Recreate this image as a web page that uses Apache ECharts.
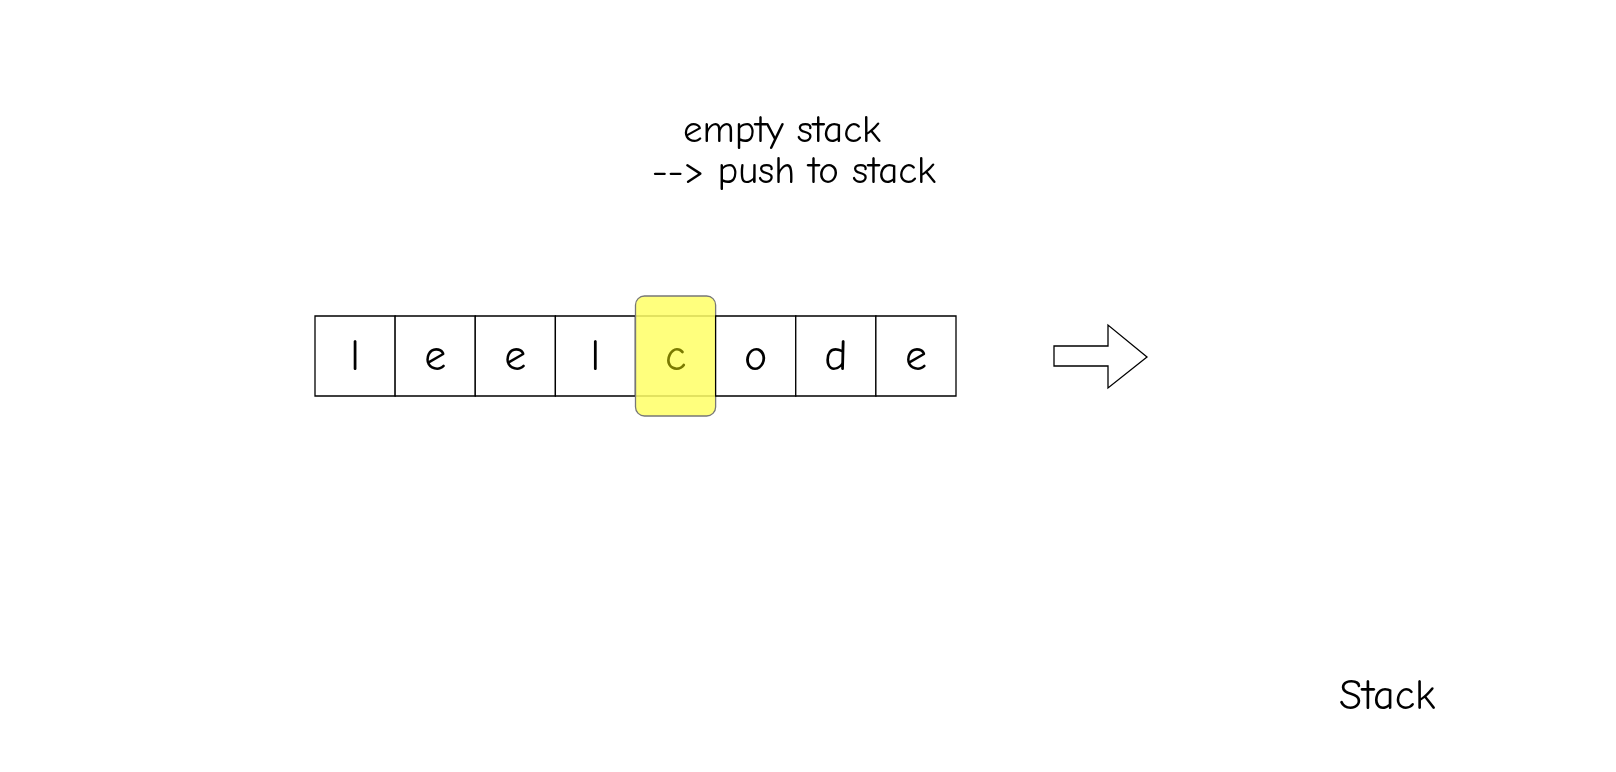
<!DOCTYPE html>
<html>
<head>
<meta charset="utf-8">
<script src="https://cdn.jsdelivr.net/npm/echarts@6/dist/echarts.min.js"></script>
<style>html,body{margin:0;padding:0;background:#fff}#main{width:1616px;height:772px}</style>
</head>
<body>
<div id="main"></div>
<script>
// 字符串与当前位置
var letters = ['l', 'e', 'e', 'l', 'c', 'o', 'd', 'e'];
var current = 4;
var noteLines = ['empty stack', '--> push to stack'];
var stackLabel = 'Stack';

var font = '"Comic Sans MS", "Comic Neue", "DejaVu Sans", sans-serif';
var chart = echarts.init(document.getElementById('main'));

var cells = letters.map(function (ch, i) { return [i, ch]; });

chart.setOption({
	animation: false,
	grid: { left: 315, top: 316, width: 641, height: 80 },
	xAxis: { type: 'value', min: 0, max: letters.length, show: false },
	yAxis: { type: 'value', min: 0, max: 1, show: false },
	series: [{
		type: 'custom',
		data: cells,
		renderItem: function (params, api) {
			var i = api.value(0);
			var p0 = api.coord([i, 1]);
			var p1 = api.coord([i + 1, 0]);
			var w = p1[0] - p0[0], h = p1[1] - p0[1];
			var hit = i === current;
			var children = [{
				type: 'rect',
				shape: { x: p0[0], y: p0[1], width: w, height: h },
				style: { fill: '#fff', stroke: '#000', lineWidth: 1.3 }
			}];
			if (hit) {
				children.push({
					type: 'rect',
					shape: { x: p0[0], y: p0[1] - 20, width: w, height: h + 40, r: 9 },
					style: { fill: 'rgba(255,255,102,0.85)', stroke: '#777', lineWidth: 1.3 }
				});
			}
			children.push({
				type: 'text',
				style: {
					text: letters[i], x: p0[0] + w / 2, y: p0[1] + h / 2 + 2,
					align: 'center', verticalAlign: 'middle',
					font: '44px ' + font, fill: hit ? '#7a7a00' : '#000'
				}
			});
			return { type: 'group', children: children };
		}
	}],
	graphic: [{
		type: 'text',
		style: { x: 683, y: 131, verticalAlign: 'middle', text: noteLines[0], font: '39px ' + font, fill: '#000' }
	}, {
		type: 'text',
		style: { x: 652, y: 172, verticalAlign: 'middle', text: noteLines[1], font: '39px ' + font, fill: '#000' }
	}, {
		type: 'polygon',
		shape: { points: [[1054, 346], [1108, 346], [1108, 325], [1147, 357], [1108, 388], [1108, 366], [1054, 366]] },
		style: { fill: '#fff', stroke: '#000', lineWidth: 1.3 }
	}, {
		type: 'text',
		style: { x: 1339, y: 697, verticalAlign: 'middle', text: stackLabel, font: '42px ' + font, fill: '#000' }
	}]
});
</script>
</body>
</html>
